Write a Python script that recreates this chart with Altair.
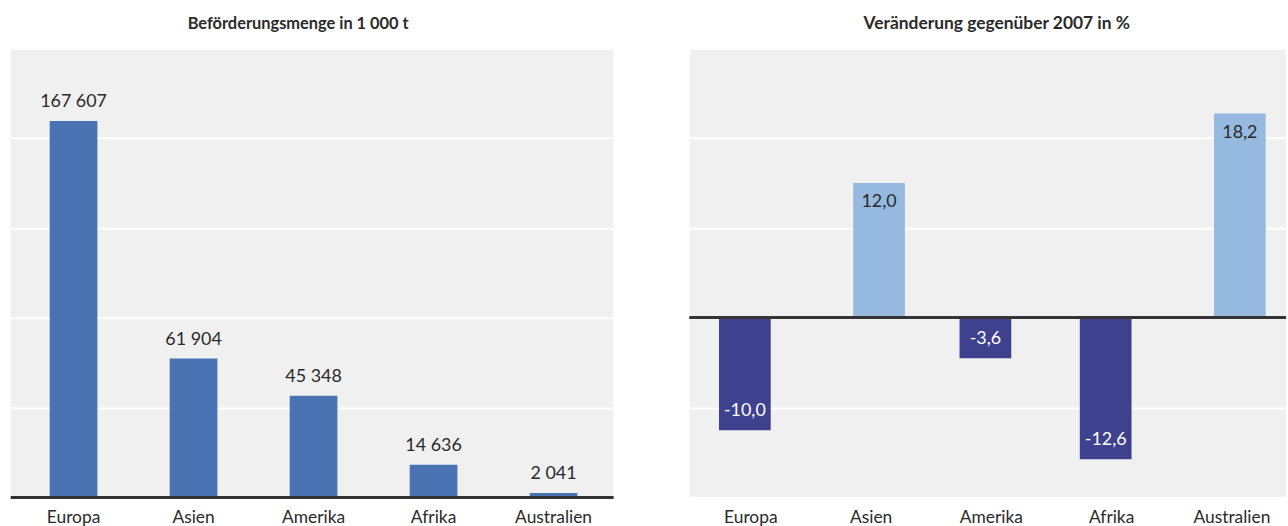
import altair as alt
import pandas as pd

# Transport volume by continent (1 000 t) and change versus 2007 (%)
regionen = ["Europa", "Asien", "Amerika", "Afrika", "Australien"]
menge_1000t = [167607, 61904, 45348, 14636, 2041]
veraenderung_pct = [-10.0, 12.0, -3.6, -12.6, 18.2]

titel_menge = "Beförderungsmenge in 1 000 t"
titel_veraenderung = "Veränderung gegenüber 2007 in %"


def tausender(v):
    return f"{v:,}".replace(",", " ")


def dezimal(v):
    return f"{v:.1f}".replace(".", ",")


df_menge = pd.DataFrame({
    "Region": regionen,
    "Menge": menge_1000t,
    "Label": [tausender(v) for v in menge_1000t],
})
df_ver = pd.DataFrame({
    "Region": regionen,
    "Wert": veraenderung_pct,
    "Label": [dezimal(v) for v in veraenderung_pct],
})

FONT = "Lato"
TEXT = "#2a2a2a"
BAR_MENGE = "#4a73b3"
BAR_NEG = "#3e418e"
BAR_POS = "#96b9df"
BASELINE = "#333333"
VALUE_SIZE = 18


def x_axis(pi, po, al):
    return alt.X(
        "Region:N", sort=regionen, title=None,
        scale=alt.Scale(paddingInner=pi, paddingOuter=po, align=al),
        axis=alt.Axis(labelAngle=0, ticks=False, domain=False, grid=False,
                      labelFont=FONT, labelFontSize=17.5, labelColor=TEXT,
                      labelPadding=11),
    )


# ---- left panel: absolute volume ----
y_menge = alt.Y(
    "Menge:Q",
    scale=alt.Scale(domain=[0, 200000], nice=False),
    axis=alt.Axis(title=None, labels=False, ticks=False, domain=False,
                  grid=True, gridColor="white", gridWidth=2,
                  values=[0, 40000, 80000, 120000, 160000, 200000]),
)
xl = x_axis(0.6025, 0.3106, 0.52)

bars_l = alt.Chart(df_menge).mark_bar(color=BAR_MENGE).encode(x=xl, y=y_menge)
text_l = alt.Chart(df_menge).mark_text(
    dy=-19, baseline="middle", font=FONT, fontSize=VALUE_SIZE, color=TEXT
).encode(x=xl, y=y_menge, text="Label:N")
base_l = alt.Chart(df_menge).mark_rule(color=BASELINE, strokeWidth=2.5).encode(
    y=alt.datum(0)
)

left = alt.layer(bars_l, text_l, base_l).properties(
    width=606, height=452,
    title=alt.TitleParams(titel_menge, dx=-14, fontSize=16.5),
)

# ---- right panel: change in percent ----
y_ver = alt.Y(
    "Wert:Q",
    scale=alt.Scale(domain=[-16, 24], nice=False, zero=False),
    axis=alt.Axis(title=None, labels=False, ticks=False, domain=False,
                  grid=True, gridColor="white", gridWidth=2,
                  values=[-16, -8, 0, 8, 16, 24]),
)
xr = x_axis(0.57, 0.264, 0.555)

neg = alt.Chart(df_ver).transform_filter("datum.Wert < 0")
pos = alt.Chart(df_ver).transform_filter("datum.Wert >= 0")

bars_neg = neg.mark_bar(color=BAR_NEG, xOffset=-6).encode(x=xr, y=y_ver)
bars_pos = pos.mark_bar(color=BAR_POS, xOffset=8).encode(x=xr, y=y_ver)
text_neg = neg.mark_text(
    dy=-19.5, xOffset=-6, baseline="middle", font=FONT, fontSize=VALUE_SIZE,
    color="white"
).encode(x=xr, y=y_ver, text="Label:N")
text_pos = pos.mark_text(
    dy=19.5, xOffset=8, baseline="middle", font=FONT, fontSize=VALUE_SIZE,
    color=TEXT
).encode(x=xr, y=y_ver, text="Label:N")
zero_r = alt.Chart(df_ver).mark_rule(color=BASELINE, strokeWidth=2.5).encode(
    y=alt.datum(0)
)

right = alt.layer(bars_neg, bars_pos, text_neg, text_pos, zero_r).properties(
    width=600, height=452,
    title=alt.TitleParams(titel_veraenderung, dx=9, fontSize=17.5),
)

chart = (
    alt.hconcat(left, right, spacing=73)
    .properties(padding={"left": 9, "top": 13, "right": 0, "bottom": 0},
                background="white")
    .configure_view(fill="#f0f0f0", strokeWidth=0)
    .configure_title(font=FONT, fontWeight="bold", color=TEXT,
                     anchor="middle", offset=16)
)

chart.save("out.html", embed_options={"renderer": "svg", "actions": False})
